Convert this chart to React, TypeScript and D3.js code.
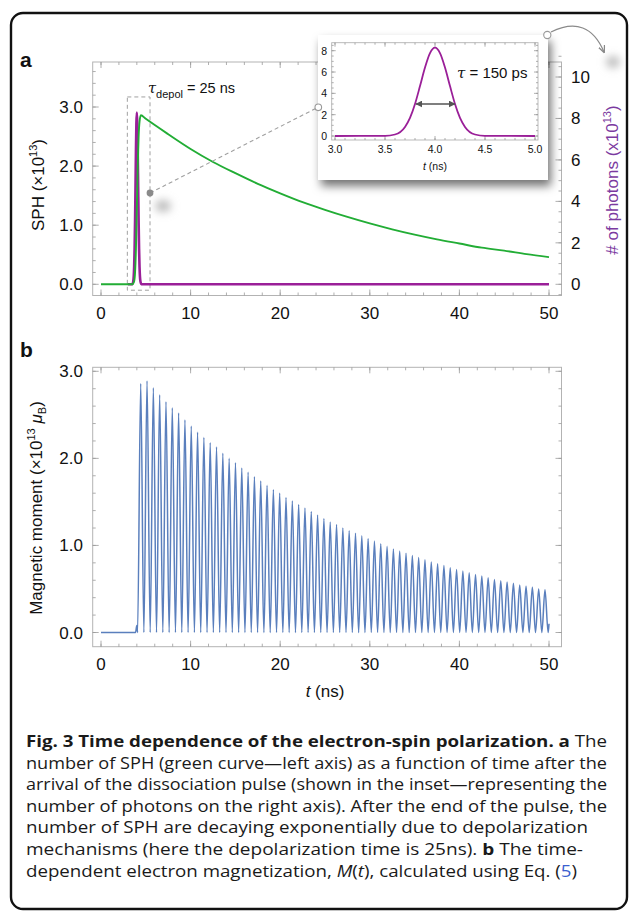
import React from 'react';
import * as d3 from 'd3';

// ---------- Panel a: SPH (green, left axis) ----------
const sphTime = [0, 3.5, 3.7, 3.8, 3.9, 4.0, 4.1, 4.2, 4.3, 4.45, 5, 7.5, 10, 12.5, 15, 17.5, 20, 22.5, 25, 27.5, 30, 32.5, 35, 37.5, 40, 42.5, 45, 47.5, 50];
const sphValue = [0, 0, 0.05, 0.2, 0.6, 1.3, 2.0, 2.5, 2.75, 2.86, 2.8, 2.54, 2.29, 2.07, 1.88, 1.7, 1.54, 1.39, 1.26, 1.14, 1.03, 0.93, 0.84, 0.76, 0.69, 0.62, 0.57, 0.51, 0.46];

// ---------- Pulse (purple, right axis / inset) ----------
const pulseTime = [3.0, 3.5, 3.6, 3.7, 3.75, 3.8, 3.85, 3.9, 3.95, 4.0, 4.05, 4.1, 4.15, 4.2, 4.25, 4.3, 4.4, 4.5, 5.0];
const pulseValue = [0, 0.01, 0.14, 0.85, 1.7, 3.0, 4.68, 6.42, 7.77, 8.28, 7.77, 6.42, 4.68, 3.0, 1.7, 0.85, 0.14, 0.01, 0];
const pulseTail = { t: 50, v: 0 };

// ---------- Panel b: magnetic moment peaks ----------
const magPreTime = [0, 3.85, 4.0, 4.08];
const magPreValue = [0, 0, 0.08, 0];
const magFirstTrough = 4.08;
const magPeriod = 0.705;
const magPeaks = [
  2.86, 2.89, 2.81, 2.73, 2.65, 2.58, 2.52, 2.44, 2.37, 2.30,
  2.24, 2.18, 2.13, 2.06, 2.0, 1.95, 1.89, 1.84, 1.79, 1.74,
  1.69, 1.64, 1.6, 1.55, 1.51, 1.47, 1.43, 1.39, 1.35, 1.31,
  1.27, 1.24, 1.2, 1.17, 1.14, 1.11, 1.08, 1.05, 1.02, 0.99,
  0.96, 0.935, 0.91, 0.885, 0.86, 0.835, 0.81, 0.79, 0.77, 0.745,
  0.725, 0.705, 0.685, 0.665, 0.65, 0.63, 0.61, 0.595, 0.58, 0.565,
  0.545, 0.53, 0.52, 0.5, 0.49,
];
const magEnd = { t: 50, v: 0.1 };

// ---------- ticks ----------
const xTickLabels = [0, 10, 20, 30, 40, 50];
const yLeftTickLabels = ['0.0', '1.0', '2.0', '3.0'];
const yRightTickLabels = [0, 2, 4, 6, 8, 10];
const insetXTickLabels = ['3.0', '3.5', '4.0', '4.5', '5.0'];
const insetYTickLabels = [0, 2, 4, 6, 8];

const GREEN = '#22ad35';
const PURPLE = '#9a1f98';
const BLUE = '#5a7fbd';
const FRAME = '#b3b3b3';
const TICK = '#9a9a9a';
const FONT = 'Liberation Sans, Arial, Helvetica, sans-serif';
const CAP_FONT = '"Open Sans", "Noto Sans", sans-serif';

// scales
const x = d3.scaleLinear().domain([0, 50]).range([101, 549]);
const yA = d3.scaleLinear().domain([0, 3]).range([284.3, 107]);
const yR = d3.scaleLinear().domain([0, 10]).range([284.3, 77]);
const yB = d3.scaleLinear().domain([0, 3]).range([632.5, 371.3]);
const xi = d3.scaleLinear().domain([3, 5]).range([335, 535]);
const yi = d3.scaleLinear().domain([0, 8]).range([136, 50.7]);

type Pt = [number, number];

function Ticks({ vals, pos, side, len, a, b }: { vals: number[]; pos: (v: number) => number; side: 'top' | 'bottom' | 'left' | 'right'; len: number; a: number; b: number }) {
  return (
    <g stroke={TICK} strokeWidth={0.8}>
      {vals.map((v, i) => {
        const p = pos(v);
        if (side === 'bottom') return <line key={i} x1={p} x2={p} y1={a} y2={a - len} />;
        if (side === 'top') return <line key={i} x1={p} x2={p} y1={a} y2={a + len} />;
        if (side === 'left') return <line key={i} y1={p} y2={p} x1={a} x2={a + len} />;
        return <line key={i} y1={p} y2={p} x1={a} x2={a - len} />;
      })}
    </g>
  );
}

function rangeIn(lo: number, hi: number, step: number, min: number, max: number) {
  return d3.range(lo, hi + step / 2, step).filter((v) => v >= min - 1e-9 && v <= max + 1e-9);
}

export default function App() {
  const curve = d3.curveMonotoneX;
  // panel a
  const greenLine = d3.line<Pt>().x((d) => x(d[0])).y((d) => yA(d[1])).curve(curve);
  const greenPts: Pt[] = sphTime.map((t, i) => [t, sphValue[i]]);
  const purpleLine = d3.line<Pt>().x((d) => x(d[0])).y((d) => yR(d[1])).curve(curve);
  const purplePts: Pt[] = [...pulseTime.map((t, i) => [t, pulseValue[i]] as Pt), [pulseTail.t, pulseTail.v]];
  // inset
  const insetLine = d3.line<Pt>().x((d) => xi(d[0])).y((d) => yi(d[1])).curve(curve);
  const insetPts: Pt[] = pulseTime.map((t, i) => [t, pulseValue[i]]);
  // panel b
  const magPts: Pt[] = magPreTime.map((t, i) => [t, magPreValue[i]] as Pt);
  magPeaks.forEach((v, i) => {
    magPts.push([magFirstTrough + (i + 0.5) * magPeriod, v]);
    magPts.push([magFirstTrough + (i + 1) * magPeriod, 0]);
  });
  magPts.push([magEnd.t, magEnd.v]);
  const magLine = d3.line<Pt>().x((d) => x(d[0])).y((d) => yB(d[1])).curve(curve);

  // frames
  const aF = { l: 92.7, r: 561.5, t: 62, b: 295.5 };
  const bF = { l: 92.7, r: 561.5, t: 367.3, b: 646.7 };
  const iF = { l: 331.7, r: 538, t: 42.7, b: 140 };

  const xMinor = rangeIn(0, 50, 2, -1, 51.3);
  const xMajor = rangeIn(0, 50, 10, -1, 51.3);

  const capLines: { parts: { t: string; bold?: boolean; italic?: boolean; color?: string }[]; len?: number }[] = [
    { parts: [{ t: 'Fig. 3 Time dependence of the electron-spin polarization. ', bold: true }, { t: 'a', bold: true }, { t: ' The' }], len: 581 },
    { parts: [{ t: 'number of SPH (green curve—left axis) as a function of time after the' }], len: 581 },
    { parts: [{ t: 'arrival of the dissociation pulse (shown in the inset—representing the' }], len: 581 },
    { parts: [{ t: 'number of photons on the right axis). After the end of the pulse, the' }], len: 581 },
    { parts: [{ t: 'number of SPH are decaying exponentially due to depolarization' }], len: 562 },
    { parts: [{ t: 'mechanisms (here the depolarization time is 25ns). ' }, { t: 'b', bold: true }, { t: ' The time-' }], len: 557 },
    { parts: [{ t: 'dependent electron magnetization, ' }, { t: 'M', italic: true }, { t: '(' }, { t: 't', italic: true }, { t: '), calculated using Eq. (' }, { t: '5', color: '#3b5fd0' }, { t: ')' }], len: 551 },
  ];

  return (
    <svg width={630} height={913} style={{ position: 'absolute', left: 0, top: 0, background: '#fff' }} fontFamily={FONT}>
      <defs>
        <filter id="shadow" x="-20%" y="-20%" width="150%" height="160%">
          <feDropShadow dx="3" dy="6" stdDeviation="5" floodColor="#000" floodOpacity="0.55" />
        </filter>
        <filter id="blur" x="-100%" y="-100%" width="300%" height="300%">
          <feGaussianBlur stdDeviation="4" />
        </filter>
        <marker id="ahead" viewBox="0 0 10 10" refX="9" refY="5" markerWidth="5" markerHeight="5" orient="auto-start-reverse">
          <path d="M0,0 L10,5 L0,10 Z" fill="#555" />
        </marker>
        <marker id="ahead2" viewBox="0 0 10 10" refX="8" refY="5" markerWidth="6" markerHeight="6" orient="auto">
          <path d="M0,1 L9,5 L0,9" fill="none" stroke="#888" strokeWidth="1.6" />
        </marker>
      </defs>

      {/* outer border */}
      <rect x={11} y={13} width={616} height={896} rx={12} fill="none" stroke="#111" strokeWidth={2.4} />

      {/* ======== Panel a ======== */}
      <text x={20} y={67} fontSize={21} fontWeight="bold" fill="#111">a</text>
      <rect x={aF.l} y={aF.t} width={aF.r - aF.l} height={aF.b - aF.t} fill="none" stroke={FRAME} strokeWidth={1} />
      <Ticks vals={xMinor} pos={x} side="bottom" len={3} a={aF.b} b={0} />
      <Ticks vals={xMajor} pos={x} side="bottom" len={6} a={aF.b} b={0} />
      <Ticks vals={xMinor} pos={x} side="top" len={3} a={aF.t} b={0} />
      <Ticks vals={xMajor} pos={x} side="top" len={6} a={aF.t} b={0} />
      <Ticks vals={rangeIn(-0.2, 3.8, 0.2, -0.18, 3.75)} pos={yA} side="left" len={3} a={aF.l} b={0} />
      <Ticks vals={[0, 1, 2, 3]} pos={yA} side="left" len={6} a={aF.l} b={0} />
      <Ticks vals={rangeIn(-0.5, 11, 0.5, -0.5, 11.2)} pos={yR} side="right" len={3} a={aF.r} b={0} />
      <Ticks vals={yRightTickLabels} pos={yR} side="right" len={6} a={aF.r} b={0} />

      {xTickLabels.map((v) => (
        <text key={v} x={x(v)} y={aF.b + 23} fontSize={17} textAnchor="middle" fill="#111">{v}</text>
      ))}
      {yLeftTickLabels.map((s, i) => (
        <text key={s} x={83} y={yA(i) + 6} fontSize={17} textAnchor="end" fill="#111">{s}</text>
      ))}
      {yRightTickLabels.map((v) => (
        <text key={v} x={571} y={yR(v) + 6} fontSize={17} textAnchor="start" fill="#111">{v}</text>
      ))}
      <text transform="translate(44,185) rotate(-90)" fontSize={17} textAnchor="middle" fill="#111">
        SPH (×10<tspan dy={-7} fontSize={11}>13</tspan><tspan dy={7}>)</tspan>
      </text>
      <text transform="translate(618,180) rotate(-90)" fontSize={17} textAnchor="middle" fill="#7b3aa0">
        # of photons (x10<tspan dy={-7} fontSize={11}>13</tspan><tspan dy={7}>)</tspan>
      </text>

      {/* tau depol label */}
      <text x={148} y={93} fontSize={14.5} fill="#111">
        <tspan fontStyle="italic" fontFamily="DejaVu Serif, serif">τ</tspan>
        <tspan dy={5} fontSize={11}>depol</tspan>
        <tspan dy={-5}> = 25 ns</tspan>
      </text>

      {/* dashed box around pulse */}
      <rect x={x(2.94)} y={yA(3.17)} width={x(5.47) - x(2.94)} height={yA(-0.1) - yA(3.17)} fill="none" stroke="#a0a0a0" strokeDasharray="4,3" strokeWidth={1} />

      {/* curves */}
      <path d={purpleLine(purplePts) || ''} fill="none" stroke={PURPLE} strokeWidth={2.6} />
      <path d={greenLine(greenPts) || ''} fill="none" stroke={GREEN} strokeWidth={1.9} />

      {/* connector to inset */}
      <ellipse cx={163} cy={206} rx={8} ry={6} fill="#bbb" filter="url(#blur)" />
      <line x1={150} y1={193} x2={318} y2={107.3} stroke="#a0a0a0" strokeDasharray="4,3" strokeWidth={1.1} />
      <circle cx={150} cy={193} r={3.4} fill="#8a8a8a" />

      {/* ======== Inset ======== */}
      <rect x={318} y={35} width={230} height={145} fill="#fff" filter="url(#shadow)" />
      <circle cx={318.3} cy={107.3} r={3.3} fill="#fff" stroke="#999" strokeWidth={1.1} />
      <rect x={iF.l} y={iF.t} width={iF.r - iF.l} height={iF.b - iF.t} fill="none" stroke={FRAME} strokeWidth={0.9} />
      <Ticks vals={rangeIn(2.9, 5.1, 0.1, 2.97, 5.03)} pos={xi} side="bottom" len={2} a={iF.b} b={0} />
      <Ticks vals={[3, 3.5, 4, 4.5, 5]} pos={xi} side="bottom" len={4} a={iF.b} b={0} />
      <Ticks vals={rangeIn(2.9, 5.1, 0.1, 2.97, 5.03)} pos={xi} side="top" len={2} a={iF.t} b={0} />
      <Ticks vals={[3, 3.5, 4, 4.5, 5]} pos={xi} side="top" len={4} a={iF.t} b={0} />
      <Ticks vals={rangeIn(-0.5, 9, 0.5, -0.37, 8.7)} pos={yi} side="left" len={2} a={iF.l} b={0} />
      <Ticks vals={insetYTickLabels} pos={yi} side="left" len={4} a={iF.l} b={0} />
      <Ticks vals={rangeIn(-0.5, 9, 0.5, -0.37, 8.7)} pos={yi} side="right" len={2} a={iF.r} b={0} />
      <Ticks vals={insetYTickLabels} pos={yi} side="right" len={4} a={iF.r} b={0} />
      {insetXTickLabels.map((s) => (
        <text key={s} x={xi(+s)} y={153} fontSize={10.5} textAnchor="middle" fill="#111">{s}</text>
      ))}
      {insetYTickLabels.map((v) => (
        <text key={v} x={327} y={yi(v) + 4} fontSize={10.5} textAnchor="end" fill="#111">{v}</text>
      ))}
      <text x={435} y={170} fontSize={10.5} textAnchor="middle" fill="#111">
        <tspan fontStyle="italic">t</tspan> (ns)
      </text>
      <path d={insetLine(insetPts) || ''} fill="none" stroke={PURPLE} strokeWidth={1.8} />
      <line x1={xi(3.81)} y1={yi(3.0)} x2={xi(4.2)} y2={yi(3.0)} stroke="#555" strokeWidth={1.4} markerStart="url(#ahead)" markerEnd="url(#ahead)" />
      <text x={457} y={78} fontSize={15} fill="#111">
        <tspan fontStyle="italic" fontFamily="DejaVu Serif, serif">τ</tspan> = 150 ps
      </text>

      {/* top-right curved arrow */}
      <ellipse cx={613} cy={62} rx={7} ry={6} fill="#bbb" filter="url(#blur)" />
      <path d="M551,32 Q588,14 604,52" fill="none" stroke="#8a8a8a" strokeWidth={1.3} markerEnd="url(#ahead2)" />
      <circle cx={547.3} cy={35} r={3.6} fill="#fff" stroke="#999" strokeWidth={1.1} />

      {/* ======== Panel b ======== */}
      <text x={20} y={357} fontSize={21} fontWeight="bold" fill="#111">b</text>
      <rect x={bF.l} y={bF.t} width={bF.r - bF.l} height={bF.b - bF.t} fill="none" stroke={FRAME} strokeWidth={1} />
      <Ticks vals={xMinor} pos={x} side="bottom" len={3} a={bF.b} b={0} />
      <Ticks vals={xMajor} pos={x} side="bottom" len={6} a={bF.b} b={0} />
      <Ticks vals={xMinor} pos={x} side="top" len={3} a={bF.t} b={0} />
      <Ticks vals={xMajor} pos={x} side="top" len={6} a={bF.t} b={0} />
      <Ticks vals={rangeIn(-0.2, 3.2, 0.2, -0.16, 3.04)} pos={yB} side="left" len={3} a={bF.l} b={0} />
      <Ticks vals={[0, 1, 2, 3]} pos={yB} side="left" len={6} a={bF.l} b={0} />
      <Ticks vals={rangeIn(-0.2, 3.2, 0.2, -0.16, 3.04)} pos={yB} side="right" len={3} a={bF.r} b={0} />
      <Ticks vals={[0, 1, 2, 3]} pos={yB} side="right" len={6} a={bF.r} b={0} />
      {xTickLabels.map((v) => (
        <text key={v} x={x(v)} y={bF.b + 23} fontSize={17} textAnchor="middle" fill="#111">{v}</text>
      ))}
      {yLeftTickLabels.map((s, i) => (
        <text key={s} x={83} y={yB(i) + 6} fontSize={17} textAnchor="end" fill="#111">{s}</text>
      ))}
      <text x={325} y={697} fontSize={17} textAnchor="middle" fill="#111">
        <tspan fontStyle="italic">t</tspan> (ns)
      </text>
      <text transform="translate(42,508) rotate(-90)" fontSize={17} textAnchor="middle" fill="#111">
        Magnetic moment (×10<tspan dy={-7} fontSize={11}>13</tspan>
        <tspan dy={7}> </tspan>
        <tspan fontStyle="italic">μ</tspan>
        <tspan dy={4} fontSize={11}>B</tspan>
        <tspan dy={-4}>)</tspan>
      </text>
      <path d={magLine(magPts) || ''} fill="none" stroke={BLUE} strokeWidth={1.5} />

      {/* ======== Caption ======== */}
      <g fontFamily={CAP_FONT} fontSize={16} fill="#1a1a1a">
        {capLines.map((ln, i) => (
          <text key={i} x={26} y={747 + i * 21.6} textLength={ln.len} lengthAdjust="spacingAndGlyphs">
            {ln.parts.map((p, j) => (
              <tspan key={j} fontWeight={p.bold ? 'bold' : undefined} fontStyle={p.italic ? 'italic' : undefined} fill={p.color}>{p.t}</tspan>
            ))}
          </text>
        ))}
      </g>
    </svg>
  );
}
